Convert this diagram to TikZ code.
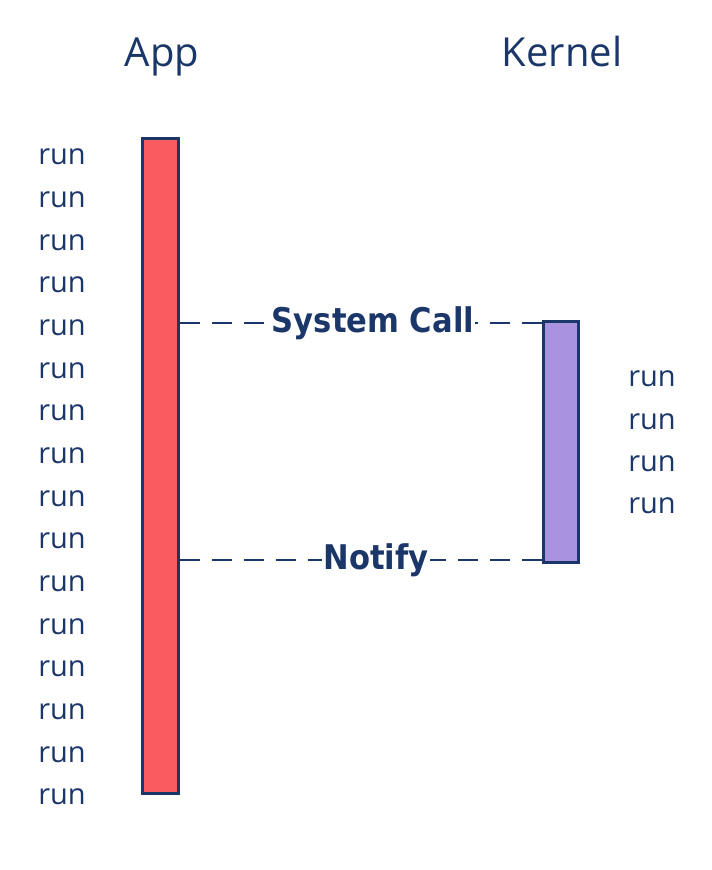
\documentclass[tikz,border=0pt]{standalone}
\usepackage{fontspec}
\setmainfont{Open Sans}
\newfontfamily\callfont{DejaVu Sans}[FakeStretch=0.9]
\usetikzlibrary{positioning}

\definecolor{inkblue}{HTML}{1B3668}
\definecolor{appred}{HTML}{F95B60}
\definecolor{kernpurple}{HTML}{A993E0}

\tikzstyle{bar}=[draw=inkblue, line width=3pt, rectangle, inner sep=0pt]
\tikzstyle{run}=[text=inkblue, font=\fontsize{29}{32}\selectfont]
\tikzstyle{title}=[text=inkblue, anchor=base, font=\fontsize{40}{44}\selectfont]
\tikzstyle{msg}=[text=inkblue, fill=white, inner sep=1pt, font=\callfont\bfseries\fontsize{34}{38}\selectfont]
\tikzstyle{msgline}=[draw=inkblue, line width=2.5pt, dash pattern=on 20pt off 12pt]

\begin{document}
\begin{tikzpicture}[x=1pt, y=-1pt]
            \useasboundingbox (0,0) rectangle (712,870);

            % Nadpisy
            \node[title] (app) at (162,66) {App};
            \node[title] (kernel) at (562,66) {Kernel};

            % Sloupce
            \node[bar, fill=appred, minimum width=36pt, minimum height=655pt] (appbar) at (160,465.5) {};
            \node[bar, fill=kernpurple, minimum width=35pt, minimum height=241pt] (kernbar) at (560.5,441.5) {};

            % Zpravy
            \node[msg] (syscall) at (373,323) {System Call};
            \node[msg] (notify) at (376,560) {Notify};
            \draw[msgline] (appbar.east |- syscall) -- (syscall);
            \draw[msgline] (kernbar.west |- syscall) -- (syscall);
            \draw[msgline] (appbar.east |- notify) -- (notify);
            \draw[msgline] (kernbar.west |- notify) -- (notify);

            % Behy aplikace
            \node[run] (r1) at (62,157) {run};
            \node[run] (r2) at (62,199.7) {run};
            \node[run] (r3) at (62,242.3) {run};
            \node[run] (r4) at (62,285) {run};
            \node[run] (r5) at (62,327.7) {run};
            \node[run] (r6) at (62,370.3) {run};
            \node[run] (r7) at (62,413) {run};
            \node[run] (r8) at (62,455.7) {run};
            \node[run] (r9) at (62,498.3) {run};
            \node[run] (r10) at (62,541) {run};
            \node[run] (r11) at (62,583.7) {run};
            \node[run] (r12) at (62,626.3) {run};
            \node[run] (r13) at (62,669) {run};
            \node[run] (r14) at (62,711.7) {run};
            \node[run] (r15) at (62,754.3) {run};
            \node[run] (r16) at (62,797) {run};

            % Behy jadra
            \node[run] (k1) at (652,379) {run};
            \node[run] (k2) at (652,421.3) {run};
            \node[run] (k3) at (652,463.7) {run};
            \node[run] (k4) at (652,506) {run};
        \end{tikzpicture}
\end{document}
